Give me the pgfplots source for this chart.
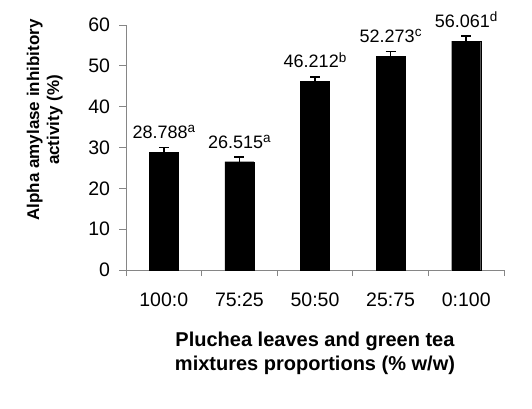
\documentclass[border=0pt]{standalone}
\usepackage{fontspec}
\setmainfont{Liberation Sans}
\usepackage{pgfplots}
\pgfplotsset{compat=1.18}
\definecolor{axgray}{RGB}{134,134,134}
\newcommand\sps[1]{\raisebox{5.8pt}{\fontsize{13.5}{14}\selectfont #1}}
\begin{document}
\begin{tikzpicture}
\useasboundingbox (0,0) rectangle (532pt,408pt);
\begin{axis}[
  at={(126pt,138pt)}, anchor=south west,
  scale only axis, width=378pt, height=245pt,
  xmin=-0.5, xmax=4.5, ymin=0, ymax=60,
  axis lines*=left, axis line style={axgray, line width=1pt},
  xtick={0,1,2,3,4}, xticklabels={100:0,75:25,50:50,25:75,0:100},
  minor xtick={-0.5,0.5,1.5,2.5,3.5,4.5},
  ytick={0,10,...,60},
  tick align=outside,
  major tick length=7pt, minor tick length=6pt,
  major x tick style={draw=none},
  minor x tick style={axgray, line width=1pt},
  major y tick style={axgray, line width=1pt},
  tick label style={font=\fontsize{19.5}{23}\selectfont},
  yticklabel style={xshift=-5.5pt},
  xticklabel style={yshift=-12.5pt},
  /pgf/number format/assume math mode=true,
  xlabel={Pluchea leaves and green tea\\mixtures proportions (\% w/w)},
  ylabel={Alpha amylase inhibitory\\activity (\%)},
  xlabel style={font=\bfseries\fontsize{20}{23.5}\selectfont, align=center, at={(axis description cs:0.5,-0.341)}, anchor=center},
  ylabel style={font=\bfseries\fontsize{17}{20}\selectfont, align=center, at={(axis description cs:-0.215,0.612)}, anchor=center},
  clip=false,
]
\addplot[ybar, bar width=29pt, fill=black, draw=black,
  error bars/.cd, y dir=plus, y explicit,
  error bar style={black, line width=1.5pt},
  error mark options={black, line width=1.5pt, mark size=5pt, rotate=90}]
coordinates {
(0,28.788) +- (0,1.2)
(1,26.515) +- (0,1.1)
(2,46.212) +- (0,1.1)
(3,52.273) +- (0,1.2)
(4,56.061) +- (0,1.2)
};
\addplot[only marks, mark=*, mark size=0pt, mark options={draw=none, fill=none},
  nodes near coords, point meta=explicit symbolic,
  nodes near coords style={anchor=base, yshift=9pt, inner sep=0pt, text=black, font=\fontsize{18}{22}\selectfont}]
coordinates {
(0,29.988) [28.788\sps{a}]
(1,27.615) [26.515\sps{a}]
(2,47.312) [46.212\sps{b}]
(3,53.473) [52.273\sps{c}]
(4,57.261) [56.061\sps{d}]
};
\end{axis}
\end{tikzpicture}
\end{document}
